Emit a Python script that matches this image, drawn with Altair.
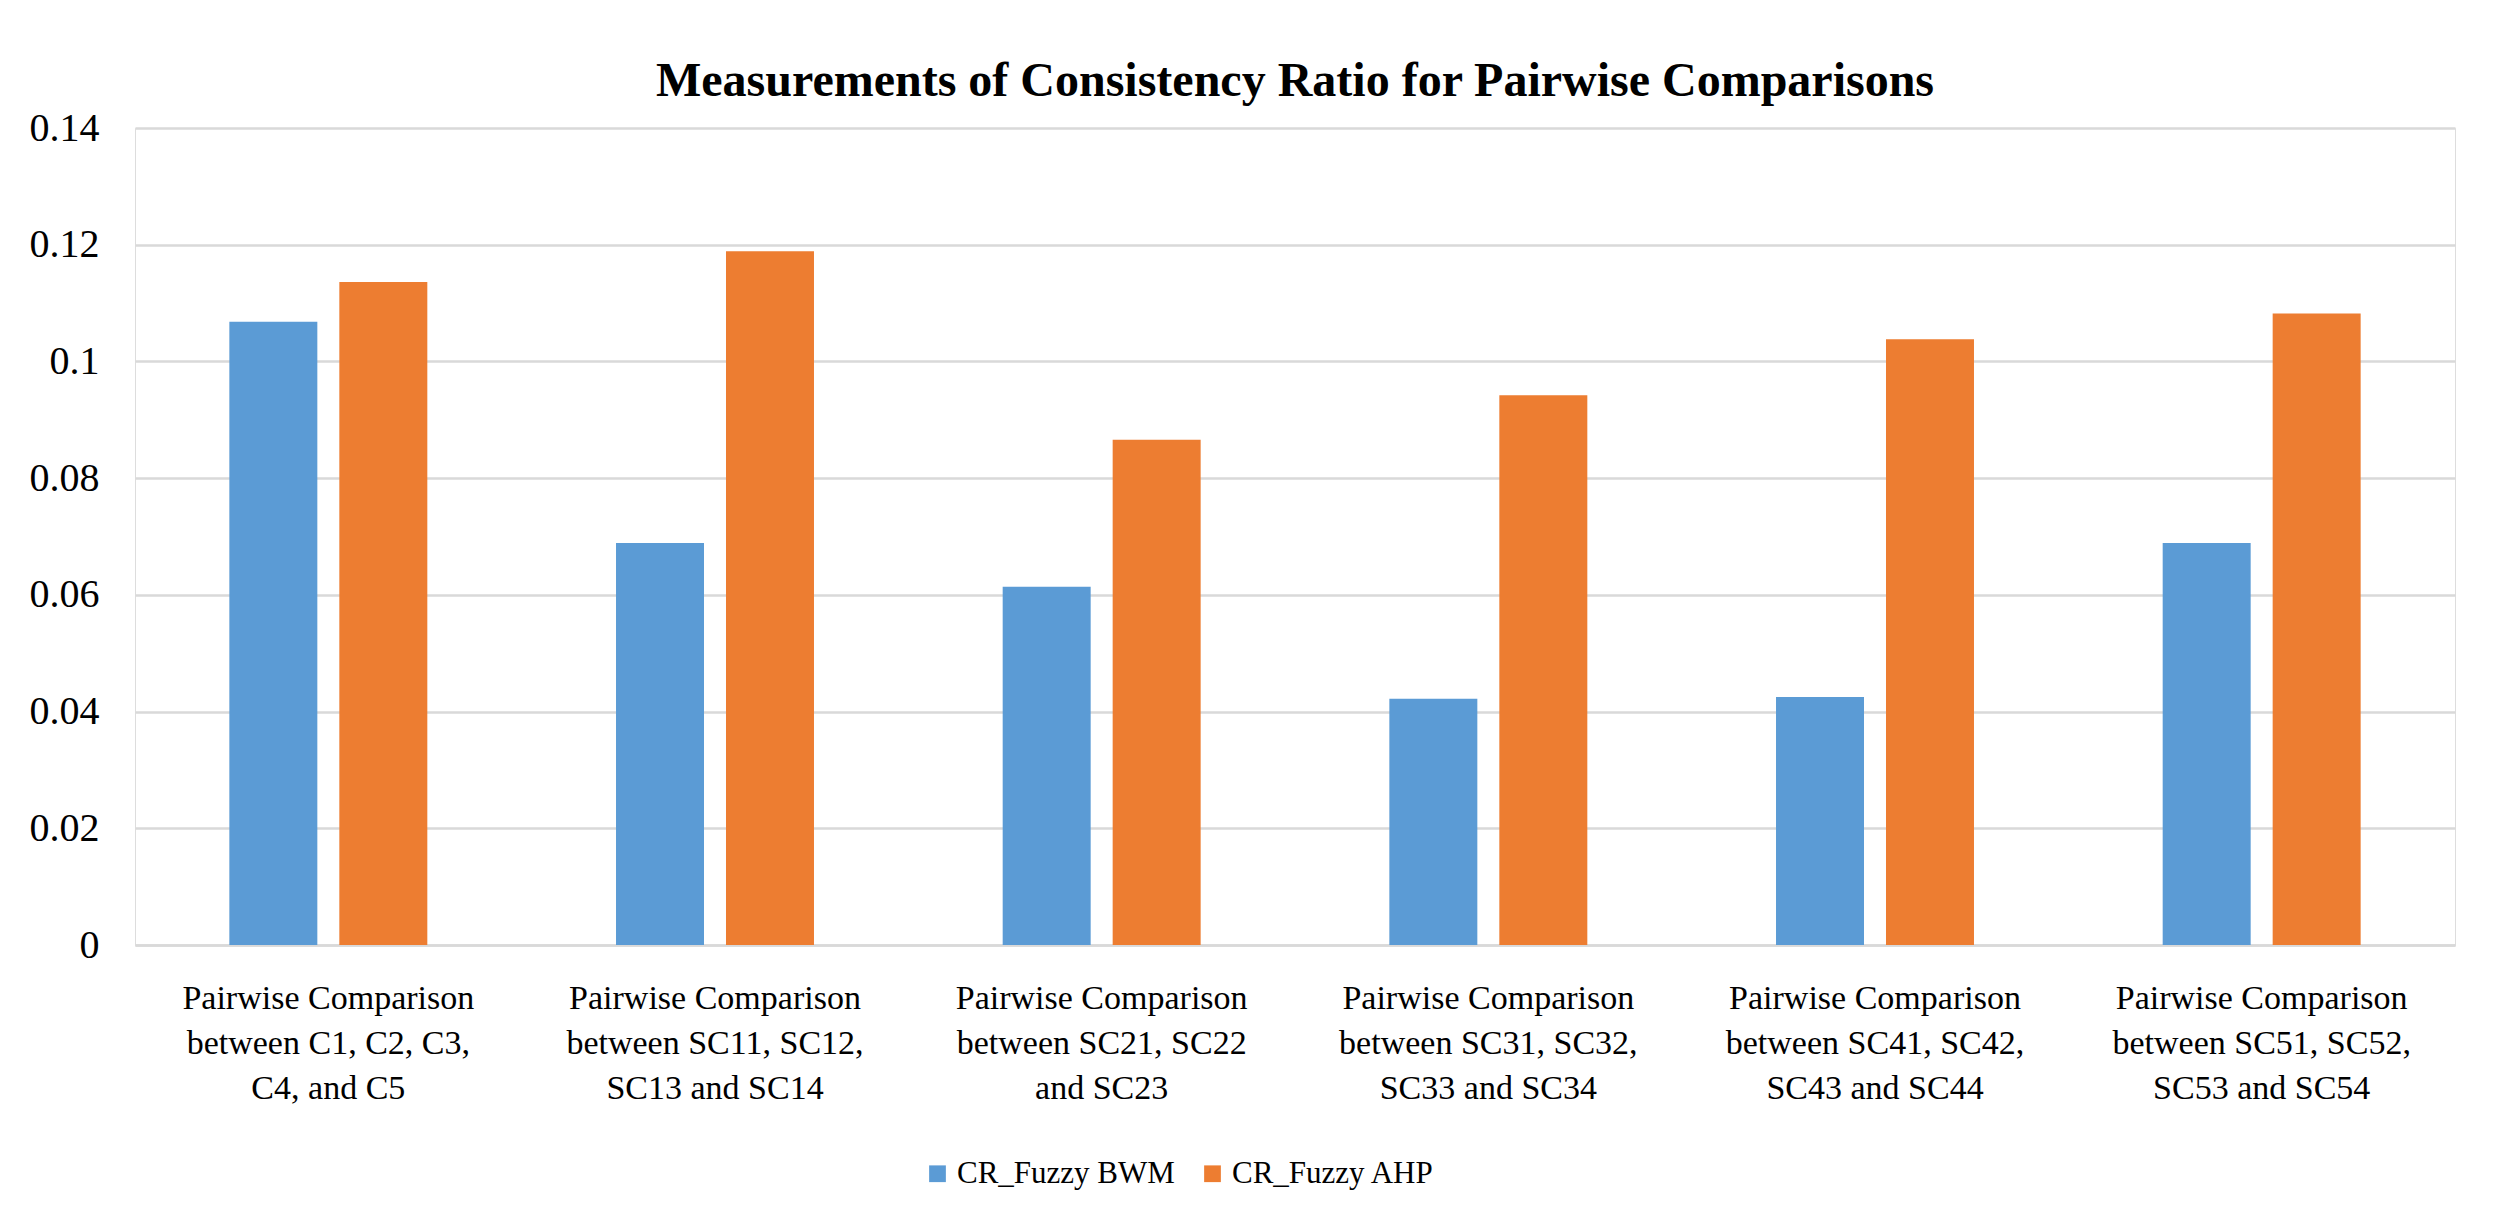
import altair as alt
import pandas as pd

# category labels, one list of lines per group
cat_lines = [
    ["Pairwise Comparison", "between C1, C2, C3,", "C4, and C5"],
    ["Pairwise Comparison", "between SC11, SC12,", "SC13 and SC14"],
    ["Pairwise Comparison", "between SC21, SC22", "and SC23"],
    ["Pairwise Comparison", "between SC31, SC32,", "SC33 and SC34"],
    ["Pairwise Comparison", "between SC41, SC42,", "SC43 and SC44"],
    ["Pairwise Comparison", "between SC51, SC52,", "SC53 and SC54"],
]
categories = ["|".join(lines) for lines in cat_lines]

series = ["CR_Fuzzy BWM", "CR_Fuzzy AHP"]
bwm = [0.1068, 0.0689, 0.0614, 0.0422, 0.0425, 0.0689]
ahp = [0.1136, 0.1189, 0.0866, 0.0942, 0.1038, 0.1082]
colors = ["#5B9BD5", "#ED7D31"]
y_ticks = [0, 0.02, 0.04, 0.06, 0.08, 0.1, 0.12, 0.14]

rows = []
for c, b, a in zip(categories, bwm, ahp):
    rows.append({"cat": c, "series": series[0], "value": b})
    rows.append({"cat": c, "series": series[1], "value": a})
data = pd.DataFrame(rows)

FONT = "Liberation Serif"

chart = alt.Chart(data).mark_bar().encode(
    x=alt.X("cat:N", sort=categories,
            scale=alt.Scale(paddingInner=0.488, paddingOuter=0.244),
            axis=alt.Axis(title=None, labelAngle=0,
                          labelExpr="split(datum.label, '|')",
                          labelFont=FONT, labelFontSize=34, labelColor="#000000",
                          labelLineHeight=45, labelPadding=36, labelBaseline="top",
                          ticks=False, domainColor="#D9D9D9", domainWidth=2.5,
                          grid=False, labelLimit=600)),
    xOffset=alt.XOffset("series:N", sort=series,
                        scale=alt.Scale(paddingInner=0.2)),
    y=alt.Y("value:Q",
            scale=alt.Scale(domain=[0, 0.14], nice=False),
            axis=alt.Axis(title=None, values=y_ticks, format="~g",
                          labelFont=FONT, labelFontSize=40, labelColor="#000000",
                          labelPadding=36, ticks=False, domain=False,
                          gridColor="#D9D9D9", gridWidth=2.5)),
    color=alt.Color("series:N", sort=series,
                    scale=alt.Scale(domain=series, range=colors),
                    legend=alt.Legend(title=None, orient="none", direction="horizontal",
                                      legendX=787, legendY=1030,
                                      symbolType="square", symbolSize=280,
                                      symbolStrokeWidth=0,
                                      labelFont=FONT, labelFontSize=31,
                                      labelColor="#000000", columnPadding=22,
                                      labelOffset=4, labelLimit=600)),
).properties(
    width=2320,
    height=817,
    title=alt.Title("Measurements  of Consistency Ratio for Pairwise Comparisons",
                    font=FONT, fontSize=48, fontWeight="bold", color="#000000",
                    anchor="middle", offset=2),
    autosize=alt.AutoSizeParams(type="none"),
    padding={"left": 127, "top": 120, "right": 37, "bottom": 250},
).configure_view(stroke=None).configure(background="#FFFFFF")

chart.save("out.html", embed_options={"renderer": "svg", "actions": False})
